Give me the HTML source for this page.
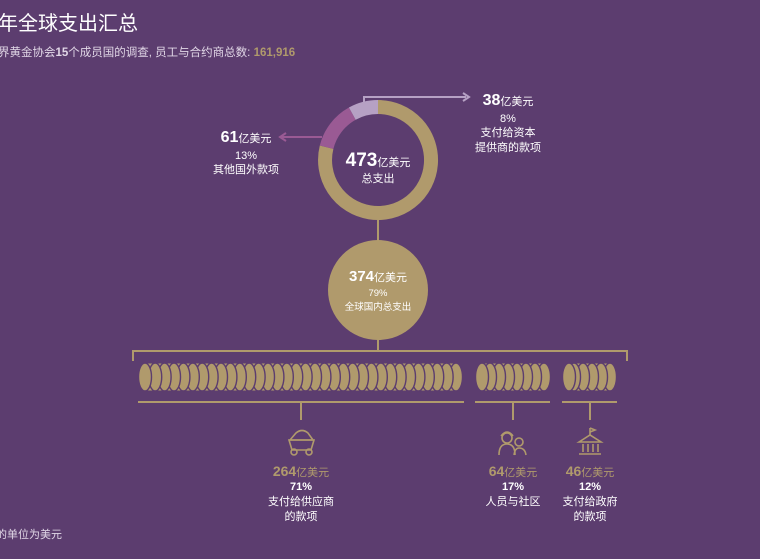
<!DOCTYPE html>
<html><head><meta charset="utf-8"><style>
html,body{margin:0;padding:0;background:#5c3d6f;}
svg{display:block;font-family:"Liberation Sans","Noto Sans CJK SC",sans-serif;}
</style></head><body>
<svg width="760" height="559" viewBox="0 0 760 559" xmlns="http://www.w3.org/2000/svg">
<rect width="760" height="559" fill="#5c3d6f"/>
<text x="-2" y="30" font-size="20" fill="#fff">年全球支出汇总</text>
<text x="-2" y="56" font-size="11.5" fill="#e0d6e6">界黄金协会<tspan font-weight="bold">15</tspan>个成员国的调查, 员工与合约商总数: <tspan fill="#b09a6c" font-weight="bold">161,916</tspan></text>

<path d="M378 107 A53 53 0 1 1 326.6 147.2" fill="none" stroke="#b09a6c" stroke-width="14"/>
<path d="M326.6 147.2 A53 53 0 0 1 352.3 113.6" fill="none" stroke="#9a5a94" stroke-width="14"/>
<path d="M352.3 113.6 A53 53 0 0 1 378 107" fill="none" stroke="#b6a1c4" stroke-width="14"/>
<text x="378" y="166" font-size="11" fill="#fff" text-anchor="middle"><tspan font-size="19" font-weight="bold">473</tspan>亿美元</text>
<text x="378" y="182" font-size="11" fill="#fff" text-anchor="middle">总支出</text>

<polyline points="364,110 364,97 466,97" fill="none" stroke="#b6a1c4" stroke-width="2"/>
<path d="M463 93 L469 97 L463 101" fill="none" stroke="#b6a1c4" stroke-width="2"/>
<line x1="322" y1="137" x2="282" y2="137" stroke="#9a5a94" stroke-width="2"/>
<path d="M286 133 L280 137 L286 141" fill="none" stroke="#9a5a94" stroke-width="2"/>

<text x="508" y="105" font-size="11" fill="#fff" text-anchor="middle"><tspan font-size="16" font-weight="bold">38</tspan>亿美元</text>
<text x="508" y="122" font-size="11" fill="#fff" text-anchor="middle">8%</text>
<text x="508" y="136" font-size="11" fill="#fff" text-anchor="middle">支付给资本</text>
<text x="508" y="151" font-size="11" fill="#fff" text-anchor="middle">提供商的款项</text>

<text x="246" y="142" font-size="11" fill="#fff" text-anchor="middle"><tspan font-size="16" font-weight="bold">61</tspan>亿美元</text>
<text x="246" y="159" font-size="11" fill="#fff" text-anchor="middle">13%</text>
<text x="246" y="173" font-size="11" fill="#fff" text-anchor="middle">其他国外款项</text>

<line x1="378" y1="220" x2="378" y2="352" stroke="#b09a6c" stroke-width="2"/>
<circle cx="378" cy="290" r="50" fill="#b09a6c"/>
<text x="378" y="281" font-size="11" fill="#fff" text-anchor="middle"><tspan font-size="15" font-weight="bold">374</tspan>亿美元</text>
<text x="378" y="296" font-size="9.5" fill="#fff" text-anchor="middle">79%</text>
<text x="378" y="310" font-size="9.5" fill="#fff" text-anchor="middle">全球国内总支出</text>

<polyline points="133,361 133,351 627,351 627,361" fill="none" stroke="#b09a6c" stroke-width="2"/>

<g fill="#b09a6c">
<rect x="145" y="363.5" width="310" height="27"/>
<rect x="482" y="363.5" width="62" height="27"/>
<rect x="569" y="363.5" width="41" height="27"/>
</g>
<g fill="#b09a6c" stroke="#5c3d6f" stroke-width="1.4">
<ellipse cx="456.0" cy="377" rx="6.5" ry="14"/><ellipse cx="446.6" cy="377" rx="6.5" ry="14"/><ellipse cx="437.2" cy="377" rx="6.5" ry="14"/><ellipse cx="427.8" cy="377" rx="6.5" ry="14"/><ellipse cx="418.4" cy="377" rx="6.5" ry="14"/><ellipse cx="409.0" cy="377" rx="6.5" ry="14"/><ellipse cx="399.6" cy="377" rx="6.5" ry="14"/><ellipse cx="390.2" cy="377" rx="6.5" ry="14"/><ellipse cx="380.8" cy="377" rx="6.5" ry="14"/><ellipse cx="371.4" cy="377" rx="6.5" ry="14"/><ellipse cx="362.0" cy="377" rx="6.5" ry="14"/><ellipse cx="352.6" cy="377" rx="6.5" ry="14"/><ellipse cx="343.2" cy="377" rx="6.5" ry="14"/><ellipse cx="333.8" cy="377" rx="6.5" ry="14"/><ellipse cx="324.4" cy="377" rx="6.5" ry="14"/><ellipse cx="315.0" cy="377" rx="6.5" ry="14"/><ellipse cx="305.6" cy="377" rx="6.5" ry="14"/><ellipse cx="296.2" cy="377" rx="6.5" ry="14"/><ellipse cx="286.8" cy="377" rx="6.5" ry="14"/><ellipse cx="277.4" cy="377" rx="6.5" ry="14"/><ellipse cx="268.0" cy="377" rx="6.5" ry="14"/><ellipse cx="258.6" cy="377" rx="6.5" ry="14"/><ellipse cx="249.2" cy="377" rx="6.5" ry="14"/><ellipse cx="239.8" cy="377" rx="6.5" ry="14"/><ellipse cx="230.4" cy="377" rx="6.5" ry="14"/><ellipse cx="221.0" cy="377" rx="6.5" ry="14"/><ellipse cx="211.6" cy="377" rx="6.5" ry="14"/><ellipse cx="202.2" cy="377" rx="6.5" ry="14"/><ellipse cx="192.8" cy="377" rx="6.5" ry="14"/><ellipse cx="183.4" cy="377" rx="6.5" ry="14"/><ellipse cx="174.0" cy="377" rx="6.5" ry="14"/><ellipse cx="164.6" cy="377" rx="6.5" ry="14"/><ellipse cx="155.2" cy="377" rx="6.5" ry="14"/><ellipse cx="145.0" cy="377" rx="6.5" ry="14"/>
<ellipse cx="544" cy="377" rx="6.5" ry="14"/><ellipse cx="535" cy="377" rx="6.5" ry="14"/><ellipse cx="526" cy="377" rx="6.5" ry="14"/><ellipse cx="517" cy="377" rx="6.5" ry="14"/><ellipse cx="508" cy="377" rx="6.5" ry="14"/><ellipse cx="499" cy="377" rx="6.5" ry="14"/><ellipse cx="490" cy="377" rx="6.5" ry="14"/><ellipse cx="482" cy="377" rx="6.5" ry="14"/>
<ellipse cx="610" cy="377" rx="6.5" ry="14"/><ellipse cx="601" cy="377" rx="6.5" ry="14"/><ellipse cx="592" cy="377" rx="6.5" ry="14"/><ellipse cx="583" cy="377" rx="6.5" ry="14"/><ellipse cx="574" cy="377" rx="6.5" ry="14"/><ellipse cx="569" cy="377" rx="6.5" ry="14"/>
</g>

<g stroke="#b09a6c" stroke-width="2" fill="none">
<line x1="138" y1="402" x2="464" y2="402"/><line x1="301" y1="402" x2="301" y2="420"/>
<line x1="475" y1="402" x2="550" y2="402"/><line x1="513" y1="402" x2="513" y2="420"/>
<line x1="562" y1="402" x2="617" y2="402"/><line x1="590" y1="402" x2="590" y2="420"/>
</g>

<g stroke="#b09a6c" stroke-width="1.6" fill="none">
<path d="M290 440 L296 433 Q302 428 308 433 L313 440 Z"/>
<path d="M289 440 L314 440 L311 450 L292 450 Z"/>
<circle cx="294" cy="452" r="3"/><circle cx="309" cy="452" r="3"/>
<circle cx="507" cy="438" r="5"/><path d="M501 436 Q507 428 513 436"/><path d="M499 455 Q499 444 507 444 Q515 444 515 455"/>
<circle cx="519" cy="442" r="4"/><path d="M514 455 Q515 448 519 448 Q525 448 526 455"/>
<path d="M579 442 L590 435 L601 442 Z"/><line x1="590" y1="435" x2="590" y2="428"/><path d="M590 428 L595 430 L590 432"/>
<line x1="583" y1="444" x2="583" y2="452"/><line x1="588" y1="444" x2="588" y2="452"/><line x1="593" y1="444" x2="593" y2="452"/><line x1="598" y1="444" x2="598" y2="452"/>
<line x1="579" y1="454" x2="601" y2="454"/>
</g>

<text x="301" y="476" font-size="11" fill="#b09a6c" text-anchor="middle"><tspan font-size="14" font-weight="bold">264</tspan>亿美元</text>
<text x="301" y="490" font-size="11" fill="#fff" font-weight="bold" text-anchor="middle">71%</text>
<text x="301" y="505" font-size="11" fill="#fff" text-anchor="middle">支付给供应商</text>
<text x="301" y="520" font-size="11" fill="#fff" text-anchor="middle">的款项</text>

<text x="513" y="476" font-size="11" fill="#b09a6c" text-anchor="middle"><tspan font-size="14" font-weight="bold">64</tspan>亿美元</text>
<text x="513" y="490" font-size="11" fill="#fff" font-weight="bold" text-anchor="middle">17%</text>
<text x="513" y="505" font-size="11" fill="#fff" text-anchor="middle">人员与社区</text>

<text x="590" y="476" font-size="11" fill="#b09a6c" text-anchor="middle"><tspan font-size="14" font-weight="bold">46</tspan>亿美元</text>
<text x="590" y="490" font-size="11" fill="#fff" font-weight="bold" text-anchor="middle">12%</text>
<text x="590" y="505" font-size="11" fill="#fff" text-anchor="middle">支付给政府</text>
<text x="590" y="520" font-size="11" fill="#fff" text-anchor="middle">的款项</text>

<text x="-4" y="538" font-size="11" fill="#e0d6e6">的单位为美元</text>
</svg>
</body></html>
